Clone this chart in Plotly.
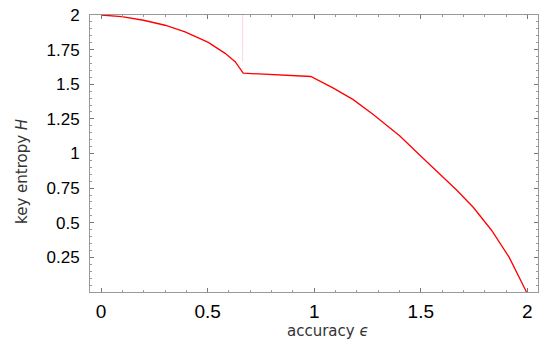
import plotly.graph_objects as go

# accuracy epsilon and key entropy H
eps = [0.0, 0.097, 0.199, 0.300, 0.394, 0.503, 0.582, 0.629, 0.667, 0.984, 1.090, 1.183,
       1.277, 1.402, 1.496, 1.590, 1.668, 1.746, 1.832, 1.915, 1.996]
H = [2.0, 1.988, 1.962, 1.926, 1.878, 1.802, 1.723, 1.663, 1.580, 1.556, 1.472, 1.389,
     1.281, 1.126, 0.988, 0.853, 0.737, 0.612, 0.446, 0.250, 0.0]

# faint vertical artefact near eps = 2/3
spike_eps = [0.664, 0.664]
spike_H = [2.0, 1.663]

x_ticks = [0, 0.5, 1, 1.5, 2]
x_ticklabels = ["0", "0.5", "1", "1.5", "2"]
y_ticks = [0.25, 0.5, 0.75, 1, 1.25, 1.5, 1.75, 2]
y_ticklabels = ["0.25", "0.5", "0.75", "1", "1.25", "1.5", "1.75", "2"]

fig = go.Figure()
fig.add_trace(go.Scatter(x=spike_eps, y=spike_H, mode="lines",
                         line=dict(color="#ffd6dc", width=1), hoverinfo="skip"))
fig.add_trace(go.Scatter(x=eps, y=H, mode="lines",
                         line=dict(color="#ff0000", width=1.3)))

axis_common = dict(showgrid=False, zeroline=False, showline=True, linecolor="#999999",
                   linewidth=1, mirror="ticks", ticks="inside", tickcolor="#777777",
                   ticklen=4, tickwidth=1, automargin=False)

fig.update_xaxes(range=[-0.052, 2.05], tickvals=x_ticks, ticktext=x_ticklabels,
                 tickfont=dict(family="Liberation Sans", size=19, color="#000"),
                 minor=dict(ticks="inside", dtick=0.1, ticklen=2, tickcolor="#999999"),
                 ticklabelstandoff=2, **axis_common)
fig.update_yaxes(range=[0, 2], tickvals=y_ticks, ticktext=y_ticklabels,
                 tickfont=dict(family="Liberation Sans", size=17, color="#000"),
                 minor=dict(ticks="inside", dtick=0.05, ticklen=2, tickcolor="#999999"),
                 ticklabelstandoff=6, **axis_common)

fig.add_annotation(text="accuracy <i>ϵ</i>", xref="paper", yref="paper",
                   x=(328 - 90) / 448, y=-(331 - 292) / 277, showarrow=False,
                   font=dict(family="DejaVu Sans", size=15, color="#333"),
                   xanchor="center", yanchor="middle")
fig.add_annotation(text="key entropy <i>H</i>", xref="paper", yref="paper",
                   x=-(90 - 22) / 448, y=(292 - 172) / 277, showarrow=False, textangle=-90,
                   font=dict(family="DejaVu Sans", size=15, color="#333"),
                   xanchor="center", yanchor="middle")

fig.update_layout(width=545, height=342, margin=dict(l=90, r=7, t=15, b=50),
                  plot_bgcolor="white", paper_bgcolor="white", showlegend=False)

fig.write_html("out.html", config={"displayModeBar": False},
               post_script="document.body.style.margin='0';document.body.style.overflow='hidden';")
